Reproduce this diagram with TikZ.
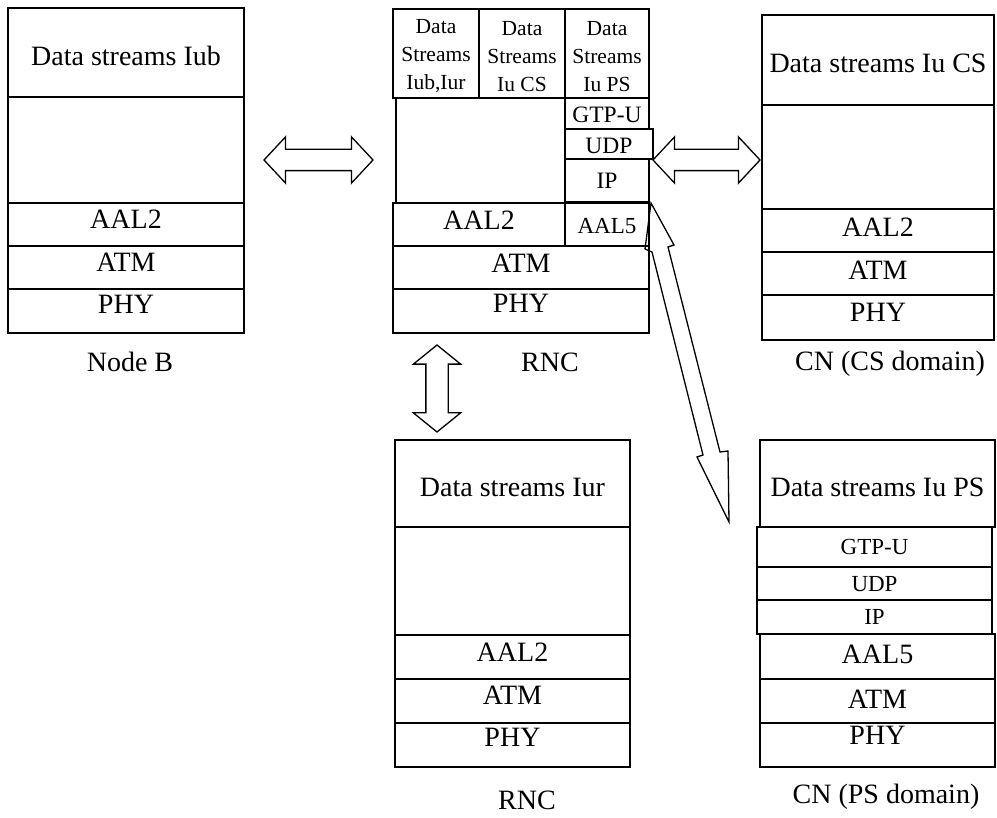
\documentclass[tikz,border=0pt]{standalone}
\usepackage{fontspec}
\setmainfont{Liberation Serif}
\usetikzlibrary{fit,shapes.arrows}
\begin{document}
\begin{tikzpicture}[x=1pt,y=-1pt,
  box/.style={draw, line width=1.5pt, inner sep=0pt, outer sep=0pt},
  big/.style={font=\fontsize{28}{30}\selectfont, inner sep=0pt},
  small/.style={font=\fontsize{23}{26}\selectfont, inner sep=0pt},
  rsmall/.style={font=\fontsize{23.5}{26}\selectfont, inner sep=0pt},
  cell/.style={font=\fontsize{21.5}{28}\selectfont, inner sep=0pt, align=center},
  lbl/.style={font=\fontsize{28}{30}\selectfont, inner sep=0pt},
  dbl/.style={draw, line width=1.3pt, double arrow, inner xsep=0pt, inner ysep=10pt,
              double arrow head extend=12.5pt, double arrow tip angle=94},
  blockarrow/.style={draw, line width=1.3pt, line join=miter}]
\useasboundingbox (0,0) rectangle (997,818);
\newcommand\lay[5]{\node[box, fit={(#2,#3) (#4,#5)}] (#1) {};}
% ---------- Node B ----------
\lay{nbhdr}{8}{8}{244}{97}
\lay{nbemp}{8}{97}{244}{203}
\lay{nbaal}{8}{203}{244}{246}
\lay{nbatm}{8}{246}{244}{289}
\lay{nbphy}{8}{289}{244}{333}
\node[big] (nbhdrt) at ([yshift=-3pt]nbhdr.center) {Data streams Iub};
\node[big] (nbaalt) at ([yshift=-16pt]nbaal.north) {AAL2};
\node[big] (nbatmt) at ([yshift=-16pt]nbatm.north) {ATM};
\node[big] (nbphyt) at ([yshift=-15pt]nbphy.north) {PHY};
\node[lbl] (nblbl) at (130,362) {Node B};
% ---------- RNC (top) ----------
\lay{rc1}{393}{9}{479}{98}
\lay{rc2}{479}{9}{565}{98}
\lay{rc3}{565}{9}{649}{98}
\lay{remp}{396}{98}{565}{203}
\lay{rgtp}{565}{98}{649}{129}
\lay{rudp}{565}{129}{653}{159}
\lay{rip}{565}{159}{649}{202}
\lay{raal2}{393}{203}{565}{246}
\lay{raal5}{565}{203}{649}{246}
\lay{ratm}{393}{246}{649}{289}
\lay{rphy}{393}{289}{649}{333}
\node[cell] (rc1t) at ([yshift=-3pt]rc1.center) {Data\\Streams\\Iub,Iur};
\node[cell] (rc2t) at ([yshift=-3pt]rc2.center) {Data\\Streams\\Iu CS};
\node[cell] (rc3t) at ([yshift=-3pt]rc3.center) {Data\\Streams\\Iu PS};
\node[rsmall] (rgtpt) at ([yshift=-1pt]rgtp.center) {GTP-U};
\node[rsmall] (rudpt) at ([yshift=-2pt]rudp.center) {UDP};
\node[rsmall] (ript) at (rip.center) {IP};
\node[big] (raal2t) at ([yshift=-17pt]raal2.north) {AAL2};
\node[small] (raal5t) at ([yshift=-2pt]raal5.center) {AAL5};
\node[big] (ratmt) at ([yshift=-17pt]ratm.north) {ATM};
\node[big] (rphyt) at ([yshift=-14pt]rphy.north) {PHY};
\node[lbl] (rlbl) at (550,362) {RNC};
% ---------- CN (CS domain) ----------
\lay{cshdr}{762}{15}{994}{105}
\lay{csemp}{762}{105}{994}{209}
\lay{csaal}{762}{209}{994}{252}
\lay{csatm}{762}{252}{994}{295}
\lay{csphy}{762}{295}{994}{340}
\node[big] (cshdrt) at ([yshift=-3pt]cshdr.center) {Data streams Iu CS};
\node[big] (csaalt) at ([yshift=-18pt]csaal.north) {AAL2};
\node[big] (csatmt) at ([yshift=-18pt]csatm.north) {ATM};
\node[big] (csphyt) at ([yshift=-17pt]csphy.north) {PHY};
\node[lbl] (cslbl) at (890,364) {CN (CS domain)};
% ---------- RNC (bottom) ----------
\lay{r2hdr}{395}{440}{630}{527}
\lay{r2emp}{395}{527}{630}{635}
\lay{r2aal}{395}{635}{630}{679}
\lay{r2atm}{395}{679}{630}{723}
\lay{r2phy}{395}{723}{630}{767}
\node[big] (r2hdrt) at ([yshift=-4pt]r2hdr.center) {Data streams Iur};
\node[big] (r2aalt) at ([yshift=-17pt]r2aal.north) {AAL2};
\node[big] (r2atmt) at ([yshift=-16pt]r2atm.north) {ATM};
\node[big] (r2phyt) at ([yshift=-14pt]r2phy.north) {PHY};
\node[lbl] (r2lbl) at (527,800) {RNC};
% ---------- CN (PS domain) ----------
\lay{pshdr}{760}{440}{995}{527}
\lay{psgtp}{757}{527}{992}{567}
\lay{psudp}{757}{567}{992}{600}
\lay{psip}{757}{600}{992}{634}
\lay{psaal}{760}{634}{995}{679}
\lay{psatm}{760}{679}{995}{723}
\lay{psphy}{760}{723}{995}{767}
\node[big] (pshdrt) at ([yshift=-4pt]pshdr.center) {Data streams Iu PS};
\node[small] (psgtpt) at (psgtp.center) {GTP-U};
\node[small] (psudpt) at ([yshift=-1pt]psudp.center) {UDP};
\node[small] (psipt) at (psip.center) {IP};
\node[big] (psaalt) at ([yshift=-20pt]psaal.north) {AAL5};
\node[big] (psatmt) at ([yshift=-20pt]psatm.north) {ATM};
\node[big] (psphyt) at ([yshift=-12pt]psphy.north) {PHY};
\node[lbl] (pslbl) at (886,797) {CN (PS domain)};
% ---------- block arrows ----------
\node[dbl, minimum height=109pt] (aleft) at (318.5,160) {};
\node[dbl, minimum height=107pt] (aright) at (706.5,160) {};
\node[dbl, rotate=90, minimum height=87pt, inner ysep=10.5pt, double arrow tip angle=102] (avert) at (437,388.5) {};
\coordinate (dtop) at (651,203);
\coordinate (dbot) at (729,522);
\draw[blockarrow] (dtop) -- (674,245) -- (668,247) -- (720,452) -- (728,451) -- (dbot)
  -- (697,457) -- (703,455) -- (652,252) -- (645,249) -- cycle;
\end{tikzpicture}
\end{document}
